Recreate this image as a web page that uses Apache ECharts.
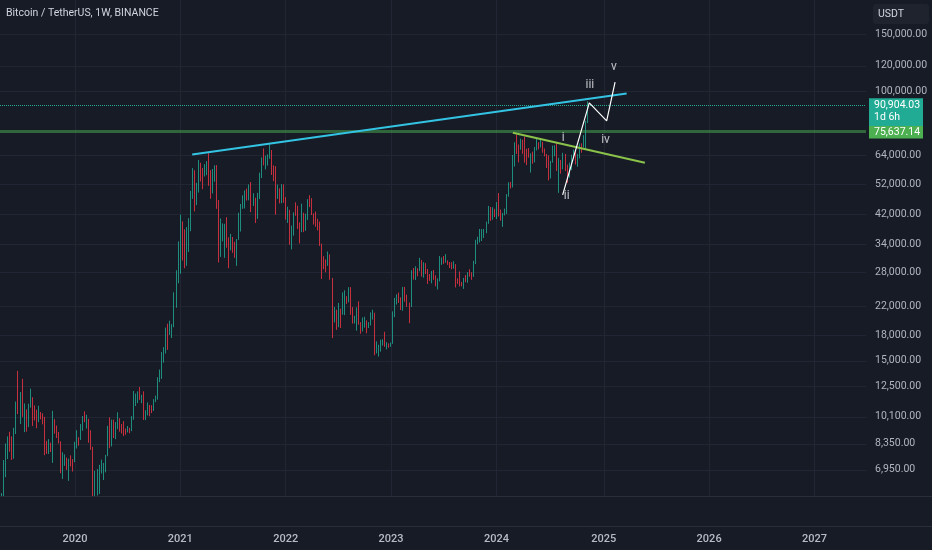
<!DOCTYPE html>
<html><head><meta charset="utf-8">
<script src="https://cdn.jsdelivr.net/npm/echarts@6/dist/echarts.min.js"></script>
<style>html,body{margin:0;padding:0;background:#171b26;}#c{width:932px;height:550px;}</style>
</head><body><div id="c"></div><script>
const FONT = "Roboto, 'Noto Sans', sans-serif";
const chartTitle = 'Bitcoin / TetherUS, 1W, BINANCE';
const quoteUnit = 'USDT';

// weekly candles (Binance BTCUSDT, week starting Monday), first bar 2019-04-29
const firstWeek = '2019-04-29';
const firstOpen = 5270;
const closes = [
  // 2019
  5770,6980,8200,8750,8730, 7630,8980,10860,10810, 11470,10230,10530,9530,10820, 11570,10310,10140,9760, 10380,10310,10040,8040,7860, 8270,8220,9550,9200, 9050,8500,6900,7410, 7510,7090,7510,7390,7350,
  // 2020
  8180,8700,8600,9330, 10150,9900,9960,8520, 8030,5360,5830,5880,6780, 6910,7120,7700,8890, 8720,9680,8720,9440, 9750,9380,9300,9120,9070, 9300,9180,9930,11070, 11670,11850,11650,11710,10250, 10320,10920,10770,10680, 11370,11500,13030,13740, 15480,15960,18400,18180,19150, 19270,23480,26280,33000,
  // 2021
  38150,35830,32300,33100, 38900,48600,57400,45100, 51200,59000,57350,55800,58200, 59800,56200,49000,56600, 58200,46400,34700,35700,35800, 39100,35500,34700,35300, 34250,31800,35400,39850, 43800,47050,49250,48800,51750, 46000,47250,43200,48200, 54950,61500,60850,61300, 63300,65500,58600,57250,49400, 50100,46700,50800,47300,
  // 2022
  41850,43100,36300,37900,42400, 42200,38350,37700,38400, 37800,41300,46800,46400, 42150,39700,39450,38450, 34050,31300,30300,29450,29900, 26600,20550,21000,19300, 20850,20800,22580,23300, 23180,24300,21500,19550,19950, 21800,19400,18800,19050, 19450,19250,19550,20650,20900, 16300,16300,16450,17100, 17100,16750,16830,16620,
  // 2023
  16950,20880,22700,23750,22950, 21800,24300,23550,22400, 22150,28000,27990,28450, 28330,30300,27600,29250, 28450,26900,26750,28050,27100, 25850,26350,30450,30600, 30150,30230,30050,29300,29050, 29300,26100,26000,25950, 25850,26500,26250,27950, 27900,27150,29950,34500,35000, 37050,37350,37450,39450, 43800,41350,43000,42300,
  // 2024
  43950,41750,41600,42050,42600, 48300,52150,51700,63100, 68950,68400,67200,71300, 69350,65700,64950,63100,64000, 61450,66300,68500,67750, 69650,66650,64250,62650, 55850,60800,68150,68250,58150, 58700,58450,64200,57300, 54850,59200,63550,65600,62800, 62850,69000,67950,68750, 80350,90904.03
];
const highs = [
  5900,7450,8370,8800,9090, 8800,9350,11250,13970, 12030,13200,11100,10650,11080, 12320,11600,10950,10620, 10920,10450,10360,10100,8530, 8630,8420,10540,9940, 9500,9080,8500,7870, 7750,7580,7520,7700,7500,
  8470,9190,8750,9600, 10160,10500,10250,9960, 9190,8180,6900,6990,7200, 7470,7300,7730,9480, 10070,9900,9900,9740, 10430,10000,9600,9800,9300, 9470,9350,10150,12120, 11900,12090,12470,11800,12090, 10580,11180,10990,10960, 11440,11730,13350,14100, 15960,16500,18950,19480,19900, 19420,24300,28400,34800,
  42000,40100,37900,38500, 41000,49700,58350,57500, 52600,61800,60600,58400,60000, 61300,64850,57500,58000, 59500,59600,46600,40900,39500, 39400,41300,35800,36700, 35900,34700,35400,42600, 45300,48150,49850,50500,52000, 52900,48850,47350,49000, 56500,62900,67000,63700, 64300,69000,66300,59500,59200, 51950,50600,52100,52000,
  47550,44450,43500,38900,42700, 45850,44750,39800,45400, 42600,42300,46900,48200, 47200,42400,42950,40800, 40000,34250,31350,30650,32400, 31750,26900,21900,21500, 22550,21650,24280,24650, 23650,25200,25200,21900,20600, 21850,22800,19700,20350, 20450,19950,19700,21100,21500, 21050,17200,16800,17400, 17450,18400,17100,16950,
  17050,21250,23370,23950,24250, 23450,25250,25250,23900, 22600,28400,28850,29200, 28800,31000,30500,30050, 29850,28650,27650,28250,28450, 27400,26800,31400,31050, 31400,31800,30450,30100,30050, 30250,29650,26800,28150, 26150,26900,27450,28000, 28600,28000,30350,35200,35950, 38000,37950,38000,40000, 44700,44350,44300,43800,
  45900,48950,43550,42550,43850, 48600,52800,52950,64000, 70000,73800,68900,71800, 71350,72800,66900,67200,64750, 65500,67700,71950,70000, 71950,70200,67000,64450, 63850,61400,68350,68500,70000, 62750,61800,65000,64500, 59800,60650,64100,66500,66050, 64500,69400,69500,73600, 81500,93450
];
const lows = [
  5160,5700,6600,7500,7900, 7450,7520,8950,10300, 9600,10100,9070,9100,9400, 10780,9470,9850,9320, 9730,9930,9580,7710,7780, 7780,7880,7300,8970, 8700,8370,6790,6520, 7150,6950,6430,7120,6870,
  7340,8080,8240,8580, 9160,9730,9300,8410, 8000,3780,4440,5800,5860, 6770,6470,6830,7650, 8100,8200,8700,8630, 9260,9100,8980,8820,8900, 9050,9000,9130,9900, 10900,11130,11380,11120,9880, 9870,10200,10140,10370, 10530,11200,11400,12900, 13200,14800,15780,16200,18000, 17600,19000,21800,25900,
  27700,30400,28800,29300, 32300,37400,47000,43000, 44950,49100,53100,50300,55000, 55500,51500,47000,48800, 53000,43800,30000,31200,34800, 31000,33300,28800,32700, 32100,31000,29300,35200, 37300,43800,43900,46400,46500, 42800,44700,39600,40800, 46900,54400,59500,57800, 59400,62300,55600,53250,42000, 47000,45500,45550,45700,
  40600,39650,34000,32900,36250, 41700,38000,34300,37150, 37150,37500,40500,44300, 41900,39200,38600,37600, 33700,26700,28600,28000,29300, 26550,17600,19650,18650, 19000,18900,20750,20700, 22400,22650,20750,19500,19500, 18550,19350,18150,18450, 18950,18200,18900,19250,20050, 15600,15800,15450,16000, 16700,16550,16250,16450,
  16550,16900,20400,22300,22550, 21450,21350,22750,21950, 19550,21900,26600,26500, 27200,28200,27150,26950, 27650,25800,26350,25900,26550, 25350,24800,26250,29500, 29700,29950,29500,28850,28600, 28700,25150,25800,25350, 25350,24900,26100,26000, 27150,26550,27100,29650,34100, 34550,34900,35650,36850, 39400,40200,40550,41300,
  40750,41500,40300,38550,41800, 42250,47700,50550,50900, 59000,64500,60750,66400, 64500,60650,59600,62800,56550, 60200,60750,66100,66600, 67500,65050,63400,58400, 53500,54250,60650,63450,57150, 49000,56100,57850,57200, 52550,54600,57500,62700,59850, 58900,62450,65050,67500, 66850,80200
];

// axes
const xStart = '2019-04-22';
const xEnd = '2027-07-01';
const yMin = 5740;
const yMax = 190900;
const yearTickDates = ['2020-01-06','2021-01-04','2022-01-03','2023-01-02','2024-01-01','2025-01-06','2026-01-05','2027-01-04'];
const yearLabels = ['2020','2021','2022','2023','2024','2025','2026','2027'];
const priceTicks = [6950, 8350, 10100, 12500, 15000, 18000, 22000, 28000, 34000, 42000, 52000, 64000, 100000, 120000, 150000];

// price scale tags
const lastPrice = 90904.03;
const lastCountdown = '1d 6h';
const levelPrice = 75637.14;

// drawings
const resistanceLine = [['2021-02-14', 64250], ['2025-03-26', 98730]];
const trendLine = [['2024-02-27', 74900], ['2025-05-28', 60630]];
const wavePath = [['2024-08-17', 48300], ['2024-11-17', 92450], ['2025-01-16', 81400], ['2025-02-14', 107000]];
const waveNames = ['i', 'ii', 'iii', 'iv', 'v'];
const waveLabelPoints = [['2024-08-19', 72300], ['2024-08-31', 47900], ['2024-11-19', 104800], ['2025-01-12', 70950], ['2025-02-10', 119100]];

const BG = '#171b26';
const UP = '#22ab94', DOWN = '#f23645';
const GRID = '#222634';
const t = s => Date.parse(s + 'T00:00:00Z');
const WEEK = 7 * 864e5;
const t0 = t(firstWeek);
const candles = closes.map((c, i) => [t0 + i * WEEK, i ? closes[i - 1] : firstOpen, c, lows[i], highs[i]]);
const fmt2 = v => v.toLocaleString('en-US', {minimumFractionDigits: 2, maximumFractionDigits: 2});
const toPts = arr => arr.map(([d, v]) => [t(d), v]);

const priceGrid = priceTicks.map(v => ({
  yAxis: v,
  lineStyle: {color: GRID, width: 1, type: 'solid'},
  label: {show: true, position: 'end', distance: 9, formatter: fmt2(v), color: '#b2b5be', fontSize: 10.5, fontFamily: FONT}
}));
const yearGrid = yearTickDates.map(d => ({xAxis: t(d), lineStyle: {color: GRID, width: 1, type: 'solid'}, label: {show: false}}));
const yearTags = yearTickDates.map((d, i) => ({
  xAxis: t(d),
  lineStyle: {color: 'rgba(0,0,0,0)', width: 0},
  label: {show: true, position: 'start', distance: 37, formatter: yearLabels[i], color: '#b8bbc3', opacity: 1, fontSize: 11, fontWeight: 500, fontFamily: FONT}
}));

const chart = echarts.init(document.getElementById('c'), null, {renderer: 'canvas'});
chart.setOption({
  backgroundColor: BG,
  animation: false,
  useUTC: true,
  textStyle: {fontFamily: FONT},
  title: {text: chartTitle, left: 6, top: 8, padding: 0,
    textStyle: {color: '#d1d4dc', fontSize: 10.5, fontWeight: 'normal', fontFamily: FONT}},
  grid: {left: 0, right: 66, top: 0, bottom: 53},
  xAxis: {
    type: 'time', min: t(xStart), max: t(xEnd),
    axisLine: {show: false}, axisTick: {show: false}, axisLabel: {show: false}, splitLine: {show: false}
  },
  yAxis: {
    type: 'log', position: 'right', min: yMin, max: yMax,
    axisLine: {show: false}, axisTick: {show: false}, axisLabel: {show: false}, splitLine: {show: false}
  },
  graphic: [
    {type: 'rect', silent: true, z: 3, shape: {x: 0, y: 497, width: 866, height: 53}, style: {fill: BG}},
    {type: 'line', silent: true, z: 4, shape: {x1: 0, y1: 496.5, x2: 932, y2: 496.5}, style: {stroke: '#2a2e39', lineWidth: 1}},
    {type: 'line', silent: true, z: 4, shape: {x1: 0, y1: 526.5, x2: 932, y2: 526.5}, style: {stroke: '#2a2e39', lineWidth: 1}},
    {type: 'rect', silent: true, z: 4, shape: {x: 873, y: 4, width: 56, height: 20, r: 3}, style: {fill: '#1f232e'}},
    {type: 'text', silent: true, z: 4, x: 878, y: 14, style: {text: quoteUnit, fill: '#d1d4dc', fontSize: 10.5, fontFamily: FONT, verticalAlign: 'middle'}}
  ],
  series: [
    {
      type: 'candlestick', name: 'BTCUSDT', data: candles, barWidth: 1.2, clip: true, silent: true,
      itemStyle: {color: UP, color0: DOWN, borderColor: UP, borderColor0: DOWN, borderWidth: 0.8},
      markLine: {
        silent: true, symbol: ['none', 'none'], z: 1, animation: false,
        data: priceGrid.concat(yearGrid, [
          {yAxis: levelPrice, lineStyle: {color: 'rgba(76,175,80,0.5)', width: 3, type: 'solid'}, label: {show: false}},
          {yAxis: lastPrice, lineStyle: {color: '#22ab94', width: 1, type: 'dotted'}, label: {show: false}}
        ])
      },
      markPoint: {
        silent: true, animation: false,
        data: [
          {coord: [t(xEnd), lastPrice], symbol: 'rect', symbolSize: [54, 28], symbolOffset: [30, 7],
            itemStyle: {color: UP},
            label: {show: true, position: [5, 1], formatter: fmt2(lastPrice) + '\n' + lastCountdown,
              color: '#ffffff', fontSize: 10.5, lineHeight: 12, fontFamily: FONT}},
          {coord: [t(xEnd), levelPrice], symbol: 'rect', symbolSize: [54, 12.5], symbolOffset: [30, 1],
            itemStyle: {color: '#4caf50'},
            label: {show: true, position: [5, 0.5], formatter: fmt2(levelPrice),
              color: '#ffffff', fontSize: 10.5, lineHeight: 12, fontFamily: FONT}}
        ]
      }
    },
    {type: 'line', name: 'resistance', data: toPts(resistanceLine), symbol: 'none', silent: true, z: 3,
      lineStyle: {color: '#33c3e3', width: 2}},
    {type: 'line', name: 'trend', data: toPts(trendLine), symbol: 'none', silent: true, z: 3,
      lineStyle: {color: '#8bc34a', width: 2}},
    {type: 'line', name: 'wave', data: toPts(wavePath), symbol: 'none', silent: true, z: 4,
      lineStyle: {color: '#ffffff', width: 1.2}},
    {type: 'scatter', name: 'waveLabels', silent: true, z: 5, symbolSize: 1,
      itemStyle: {color: 'rgba(0,0,0,0)'},
      label: {show: true, position: 'inside', formatter: p => p.name, color: '#e8e9ec', fontSize: 12, fontFamily: FONT},
      data: waveNames.map((n, i) => ({name: n, value: [t(waveLabelPoints[i][0]), waveLabelPoints[i][1]]})),
      markLine: {silent: true, symbol: ['none', 'none'], z: 8, animation: false, data: yearTags}}
  ]
});
</script></body></html>
